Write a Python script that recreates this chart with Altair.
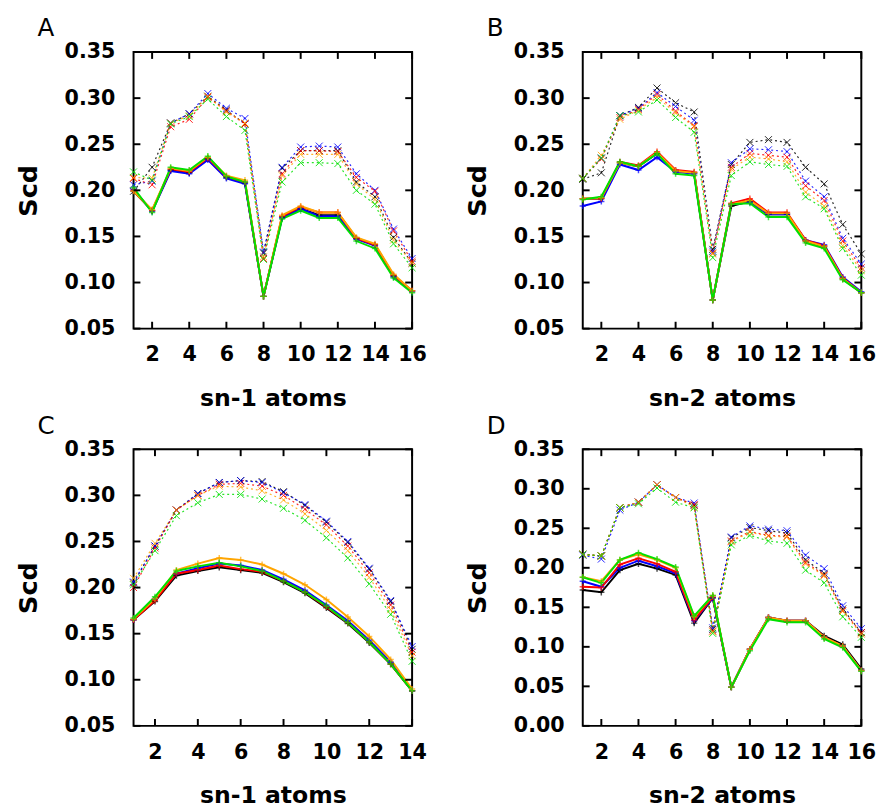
import altair as alt
import pandas as pd

# ---------------- data ----------------
SERIES = ["black", "blue", "red", "orange", "green"]
COLORS = ["#000000", "#0000ff", "#ff0000", "#ffa500", "#00e000"]

X16 = list(range(1, 17))
X14 = list(range(1, 15))

# Panel A (sn-1)
A_SOLID = {
    "black":  [0.199,0.178,0.222,0.219,0.234,0.214,0.208,0.085,0.171,0.180,0.173,0.173,0.148,0.141,0.107,0.091],
    "blue":   [0.201,0.177,0.221,0.218,0.233,0.213,0.207,0.085,0.170,0.180,0.172,0.172,0.147,0.140,0.106,0.090],
    "red":    [0.200,0.178,0.223,0.220,0.235,0.215,0.209,0.085,0.172,0.182,0.176,0.176,0.148,0.141,0.108,0.091],
    "orange": [0.199,0.179,0.224,0.221,0.236,0.216,0.211,0.085,0.173,0.183,0.176,0.176,0.149,0.142,0.109,0.091],
    "green":  [0.203,0.176,0.225,0.222,0.237,0.215,0.209,0.085,0.169,0.178,0.170,0.170,0.145,0.137,0.105,0.089],
}
A_DOT = {
    "black":  [0.199,0.225,0.273,0.283,0.302,0.287,0.272,0.132,0.224,0.243,0.243,0.243,0.209,0.193,0.149,0.121],
    "blue":   [0.206,0.210,0.273,0.283,0.305,0.289,0.278,0.133,0.225,0.247,0.248,0.247,0.218,0.200,0.158,0.126],
    "red":    [0.213,0.206,0.269,0.277,0.301,0.286,0.272,0.126,0.218,0.243,0.243,0.242,0.214,0.199,0.156,0.123],
    "orange": [0.214,0.213,0.273,0.281,0.302,0.285,0.273,0.128,0.216,0.239,0.239,0.239,0.207,0.190,0.146,0.121],
    "green":  [0.220,0.211,0.272,0.280,0.299,0.280,0.265,0.125,0.209,0.230,0.230,0.229,0.200,0.185,0.142,0.116],
}

# Panel B (sn-2)
B_SOLID = {
    "black":  [0.191,0.191,0.230,0.226,0.240,0.221,0.219,0.081,0.183,0.188,0.174,0.174,0.145,0.139,0.104,0.089],
    "blue":   [0.183,0.188,0.228,0.222,0.236,0.220,0.218,0.081,0.185,0.187,0.174,0.174,0.146,0.141,0.106,0.090],
    "red":    [0.191,0.191,0.231,0.227,0.242,0.222,0.220,0.081,0.186,0.191,0.176,0.176,0.146,0.140,0.105,0.089],
    "orange": [0.191,0.192,0.230,0.226,0.241,0.221,0.219,0.081,0.185,0.189,0.175,0.175,0.145,0.139,0.104,0.089],
    "green":  [0.190,0.193,0.231,0.226,0.240,0.218,0.216,0.081,0.185,0.186,0.171,0.171,0.143,0.137,0.103,0.089],
}
B_DOT = {
    "black":  [0.212,0.219,0.281,0.290,0.311,0.295,0.285,0.136,0.228,0.252,0.255,0.252,0.225,0.207,0.163,0.131],
    "blue":   [0.213,0.235,0.281,0.289,0.306,0.291,0.276,0.134,0.230,0.245,0.244,0.242,0.210,0.193,0.148,0.120],
    "red":    [0.213,0.234,0.279,0.288,0.304,0.286,0.270,0.132,0.225,0.240,0.238,0.236,0.205,0.189,0.145,0.116],
    "orange": [0.213,0.238,0.277,0.287,0.301,0.284,0.269,0.131,0.223,0.236,0.234,0.231,0.198,0.183,0.140,0.113],
    "green":  [0.213,0.235,0.281,0.285,0.298,0.279,0.263,0.127,0.216,0.231,0.228,0.226,0.193,0.180,0.137,0.108],
}

# Panel C (sn-1, 14 atoms)
C_SOLID = {
    "black":  [0.165,0.185,0.213,0.218,0.222,0.219,0.216,0.206,0.194,0.178,0.161,0.140,0.117,0.088],
    "blue":   [0.165,0.188,0.215,0.221,0.226,0.224,0.219,0.209,0.197,0.181,0.164,0.143,0.119,0.088],
    "red":    [0.165,0.186,0.215,0.219,0.224,0.220,0.217,0.207,0.195,0.179,0.162,0.141,0.117,0.088],
    "orange": [0.166,0.188,0.219,0.226,0.232,0.230,0.225,0.215,0.203,0.187,0.168,0.147,0.122,0.090],
    "green":  [0.167,0.190,0.218,0.223,0.227,0.223,0.218,0.207,0.195,0.180,0.162,0.141,0.117,0.088],
}
C_DOT = {
    "black":  [0.205,0.245,0.284,0.302,0.314,0.316,0.315,0.304,0.289,0.271,0.249,0.220,0.185,0.133],
    "blue":   [0.206,0.245,0.284,0.302,0.314,0.316,0.314,0.303,0.290,0.272,0.250,0.221,0.186,0.136],
    "red":    [0.200,0.243,0.284,0.300,0.312,0.313,0.310,0.300,0.285,0.268,0.245,0.216,0.181,0.130],
    "orange": [0.210,0.248,0.284,0.300,0.310,0.309,0.305,0.295,0.280,0.262,0.240,0.211,0.176,0.126],
    "green":  [0.203,0.240,0.278,0.292,0.301,0.301,0.296,0.286,0.273,0.254,0.232,0.204,0.171,0.120],
}

# Panel D (sn-2)
D_SOLID = {
    "black":  [0.172,0.169,0.197,0.205,0.199,0.191,0.130,0.162,0.049,0.097,0.137,0.133,0.133,0.114,0.103,0.072],
    "blue":   [0.183,0.176,0.200,0.209,0.202,0.193,0.133,0.162,0.049,0.097,0.137,0.133,0.133,0.112,0.101,0.070],
    "red":    [0.176,0.175,0.204,0.212,0.205,0.195,0.134,0.163,0.049,0.097,0.137,0.133,0.133,0.112,0.101,0.070],
    "orange": [0.188,0.183,0.210,0.217,0.210,0.200,0.138,0.165,0.049,0.097,0.137,0.133,0.133,0.112,0.101,0.070],
    "green":  [0.188,0.181,0.210,0.219,0.211,0.201,0.139,0.165,0.049,0.095,0.135,0.131,0.131,0.110,0.099,0.069],
}
D_DOT = {
    "black":  [0.217,0.215,0.276,0.283,0.305,0.289,0.279,0.122,0.238,0.251,0.247,0.244,0.210,0.193,0.148,0.118],
    "blue":   [0.216,0.211,0.273,0.283,0.305,0.289,0.282,0.124,0.239,0.253,0.249,0.247,0.216,0.199,0.152,0.123],
    "red":    [0.217,0.215,0.276,0.283,0.305,0.289,0.280,0.120,0.234,0.246,0.241,0.240,0.207,0.191,0.146,0.118],
    "orange": [0.217,0.215,0.276,0.283,0.305,0.289,0.277,0.119,0.233,0.245,0.240,0.239,0.205,0.190,0.145,0.116],
    "green":  [0.217,0.215,0.276,0.281,0.301,0.283,0.276,0.117,0.229,0.241,0.234,0.231,0.197,0.181,0.138,0.112],
}

X_TICKS_16 = [2, 4, 6, 8, 10, 12, 14, 16]
X_TICKS_14 = [2, 4, 6, 8, 10, 12, 14]
Y_TICKS = [0.05, 0.10, 0.15, 0.20, 0.25, 0.30, 0.35]
Y_TICKS_D = [0.00, 0.05, 0.10, 0.15, 0.20, 0.25, 0.30, 0.35]

# ---------------- layout / style ----------------
W, H = 284, 282
TICK = 7
FONT = "DejaVu Sans"
PLUS = "M-1,0L1,0M0,-1L0,1"
CROSS = "M-1,-1L1,1M-1,1L1,-1"

keys = [f"{i}-{s}" for i, s in enumerate(SERIES)]
color_scale = alt.Scale(domain=keys, range=COLORS)


def build_df(xs, solid, dot):
    rows = []
    for i, s in enumerate(SERIES):
        for x, y in zip(xs, solid[s]):
            rows.append({"x": x, "y": y, "s": f"{i}-{s}", "style": "solid"})
    for i, s in enumerate(SERIES):
        for x, y in zip(xs, dot[s]):
            rows.append({"x": x, "y": y, "s": f"{i}-{s}", "style": "dot"})
    return pd.DataFrame(rows)


def panel(letter, xs, solid, dot, xticks, yticks, xtitle):
    df = build_df(xs, solid, dot)
    xsc = alt.Scale(domain=[xs[0], xs[-1]], nice=False, zero=False)
    ysc = alt.Scale(domain=[yticks[0], yticks[-1]], nice=False, zero=False)
    xaxis = alt.Axis(values=xticks, title=xtitle, ticks=False, domain=False, grid=False,
                     labelFlush=False, labelOverlap=False, labelPadding=16,
                     titlePadding=22, titleFontSize=24)
    yaxis = alt.Axis(values=yticks, title="Scd", format=".2f", ticks=False, domain=False,
                     grid=False, labelFlush=False, labelOverlap=False, labelPadding=19,
                     titlePadding=23, titleFontSize=26)
    X = alt.X("x:Q", scale=xsc, axis=xaxis)
    Y = alt.Y("y:Q", scale=ysc, axis=yaxis)
    base = alt.Chart(df)
    enc_color = alt.Color("s:N", scale=color_scale, legend=None)

    dot_line = base.transform_filter(alt.datum.style == "dot").mark_line(
        strokeWidth=1.2, strokeDash=[2, 3], opacity=0.85).encode(x=X, y=Y, color=enc_color)
    dot_pts = base.transform_filter(alt.datum.style == "dot").mark_point(
        shape=CROSS, filled=False, strokeWidth=1, size=50, opacity=0.85).encode(
        x=X, y=Y, color=enc_color)
    sol_line = base.transform_filter(alt.datum.style == "solid").mark_line(
        strokeWidth=2).encode(x=X, y=Y, color=enc_color)
    sol_pts = base.transform_filter(alt.datum.style == "solid").mark_point(
        shape=PLUS, filled=False, strokeWidth=1.5, size=40).encode(x=X, y=Y, color=enc_color)

    xt = pd.DataFrame({"x": xticks})
    yt = pd.DataFrame({"y": yticks})
    tick_kw = dict(color="black", strokeWidth=2)
    xb = alt.Chart(xt).mark_rule(**tick_kw).encode(x=X, y=alt.value(H), y2=alt.value(H - TICK))
    xtop = alt.Chart(xt).mark_rule(**tick_kw).encode(x=X, y=alt.value(0), y2=alt.value(TICK))
    yl = alt.Chart(yt).mark_rule(**tick_kw).encode(y=Y, x=alt.value(0), x2=alt.value(TICK))
    yr = alt.Chart(yt).mark_rule(**tick_kw).encode(y=Y, x=alt.value(W), x2=alt.value(W - TICK))

    return alt.layer(dot_line, dot_pts, sol_line, sol_pts, xb, xtop, yl, yr).properties(
        width=W, height=H,
        title=alt.TitleParams(letter, anchor="start", frame="group", dx=-98, offset=0,
                              fontSize=25, fontWeight="normal", font=FONT, color="black"))


pA = panel("A", X16, A_SOLID, A_DOT, X_TICKS_16, Y_TICKS, "sn-1 atoms")
pB = panel("B", X16, B_SOLID, B_DOT, X_TICKS_16, Y_TICKS, "sn-2 atoms")
pC = panel("C", X14, C_SOLID, C_DOT, X_TICKS_14, Y_TICKS, "sn-1 atoms")
pD = panel("D", X16, D_SOLID, D_DOT, X_TICKS_16, Y_TICKS_D, "sn-2 atoms")

chart = alt.vconcat(
    alt.hconcat(pA, pB, spacing=37),
    alt.hconcat(pC, pD, spacing=37),
    spacing=2,
).properties(
    padding={"left": 7, "right": 0, "top": 0, "bottom": 0},
    background="white",
).configure_view(
    stroke="black", strokeWidth=2
).configure_axis(
    labelFont=FONT, labelFontWeight="bold", labelFontSize=21, labelColor="black",
    titleFont=FONT, titleFontWeight="bold", titleColor="black",
).configure_concat(spacing=2)

chart.save("out.html", embed_options={"renderer": "svg", "actions": False})
